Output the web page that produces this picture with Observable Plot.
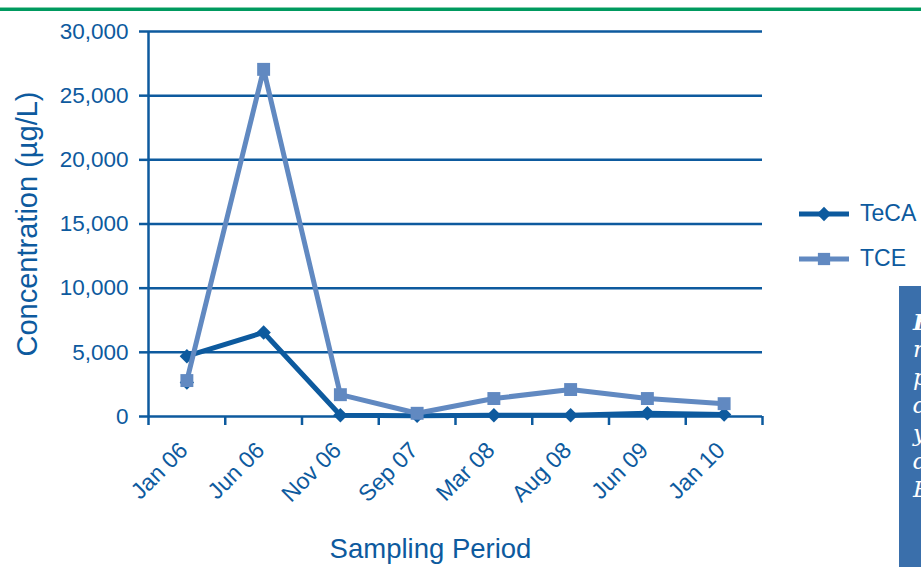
<!DOCTYPE html>
<html>
<head>
<meta charset="utf-8">
<script src="https://cdn.jsdelivr.net/npm/d3@7"></script>
<script src="https://cdn.jsdelivr.net/npm/@observablehq/plot@0.6"></script>
<style>
  html, body { margin: 0; padding: 0; background: #fff; }
  #wrap { position: relative; width: 921px; height: 567px; overflow: hidden; font-family: "Liberation Sans", Arial, sans-serif; }
  #topline { position: absolute; left: 0; top: 7px; width: 921px; height: 1px; background: #86d0ad; }
  #topline2 { position: absolute; left: 0; top: 8px; width: 921px; height: 3px; background: #009a60; }
  #legend { position: absolute; left: 799px; top: 191px; color: #0d5a9e; font-size: 23px; }
  .item { display: flex; align-items: center; height: 45px; }
  .item svg { margin-right: 9px; }
  #box { position: absolute; left: 899px; top: 286px; width: 22px; height: 281px; background: #3a6fab; overflow: hidden; }
  #box div { position: absolute; left: 14px; color: #fff; font-family: "DejaVu Serif", "Liberation Serif", serif; font-style: italic; font-size: 23px; white-space: nowrap; }
</style>
</head>
<body>
<div id="wrap">
  <div id="topline"></div>
  <div id="topline2"></div>
  <div id="chart"></div>
  <div id="legend"></div>
  <div id="box"></div>
</div>
<script>
const categories = ["Jan 06", "Jun 06", "Nov 06", "Sep 07", "Mar 08", "Aug 08", "Jun 09", "Jan 10"];
const tecaValues = [4700, 6550, 100, 50, 100, 100, 250, 150];
const tceValues  = [2800, 27050, 1700, 250, 1400, 2100, 1400, 1000];
const tecaExtraPeriod = ["Jan 06"];
const tecaExtraValues = [2650];
const yTicks = [0, 5000, 10000, 15000, 20000, 25000, 30000];
const seriesNames = ["TeCA", "TCE"];
const boxLetters = ["F", "r", "p", "d", "y", "d", "E"];

const dark = "#0d5a9e";
const light = "#6189c1";

const idx = c => categories.indexOf(c) + 0.5;
const teca = categories.map((c, i) => ({x: idx(c), value: tecaValues[i]}));
const tce = categories.map((c, i) => ({x: idx(c), value: tceValues[i]}));
const tecaExtra = tecaExtraPeriod.map((c, i) => ({x: idx(c), value: tecaExtraValues[i]}));

const chart = Plot.plot({
  width: 921,
  height: 567,
  marginLeft: 148,
  marginRight: 159,
  marginTop: 31,
  marginBottom: 151,
  x: {type: "linear", domain: [0, categories.length], axis: null},
  y: {domain: [0, 30000], axis: null},
  style: {fontFamily: "'Liberation Sans', Arial, sans-serif", color: dark, background: "transparent"},
  marks: [
    Plot.ruleY(yTicks, {stroke: dark, strokeWidth: 2.5}),
    Plot.ruleX([0], {stroke: dark, strokeWidth: 2.5}),
    Plot.axisY({ticks: yTicks, tickSize: 9, tickPadding: 11, tickFormat: d3.format(","), fontSize: 22.5, strokeWidth: 2.5, label: null}),
    Plot.axisX({ticks: d3.range(categories.length + 1), tickSize: 9, tickFormat: () => "", strokeWidth: 2.5, label: null}),
    Plot.axisX({ticks: categories.map(idx), tickSize: 0, tickPadding: 30, dx: -3, tickRotate: -45, fontSize: 23,
                tickFormat: v => categories[Math.floor(v)], label: null}),
    Plot.text(["Concentration (µg/L)"], {frameAnchor: "left", textAnchor: "middle", dx: -121, rotate: -90, fontSize: 29, fill: dark}),
    Plot.text(["Sampling Period"], {frameAnchor: "bottom", textAnchor: "middle", lineAnchor: "middle", dy: 133, dx: -25, fontSize: 27.5, fill: dark}),
    Plot.line(teca, {x: "x", y: "value", stroke: dark, strokeWidth: 5}),
    Plot.dot(teca, {x: "x", y: "value", symbol: "diamond2", r: 6.5, fill: dark, stroke: "none"}),
    Plot.dot(tecaExtra, {x: "x", y: "value", symbol: "diamond2", r: 6.5, fill: dark, stroke: "none"}),
    Plot.line(tce, {x: "x", y: "value", stroke: light, strokeWidth: 5}),
    Plot.dot(tce, {x: "x", y: "value", symbol: "square", r: 7.3, fill: light, stroke: "none"})
  ]
});
document.getElementById("chart").appendChild(chart);

const legend = document.getElementById("legend");
const colors = [dark, light];
const symbols = [d3.symbolDiamond2, d3.symbolSquare];
seriesNames.forEach((name, i) => {
  const item = document.createElement("div");
  item.className = "item";
  const svg = d3.create("svg").attr("width", 52).attr("height", 20);
  svg.append("line").attr("x1", 0).attr("x2", 50).attr("y1", 10).attr("y2", 10)
     .attr("stroke", colors[i]).attr("stroke-width", 5);
  svg.append("path").attr("transform", "translate(25,10)")
     .attr("d", d3.symbol(symbols[i], i === 0 ? 130 : 150)()).attr("fill", colors[i]);
  item.appendChild(svg.node());
  const label = document.createElement("span");
  label.textContent = name;
  item.appendChild(label);
  legend.appendChild(item);
});

const box = document.getElementById("box");
boxLetters.forEach((l, i) => {
  const d = document.createElement("div");
  d.textContent = l;
  d.style.top = (22 + i * 28) + "px";
  if (i === 0) d.style.fontWeight = "bold";
  box.appendChild(d);
});
</script>
</body>
</html>
